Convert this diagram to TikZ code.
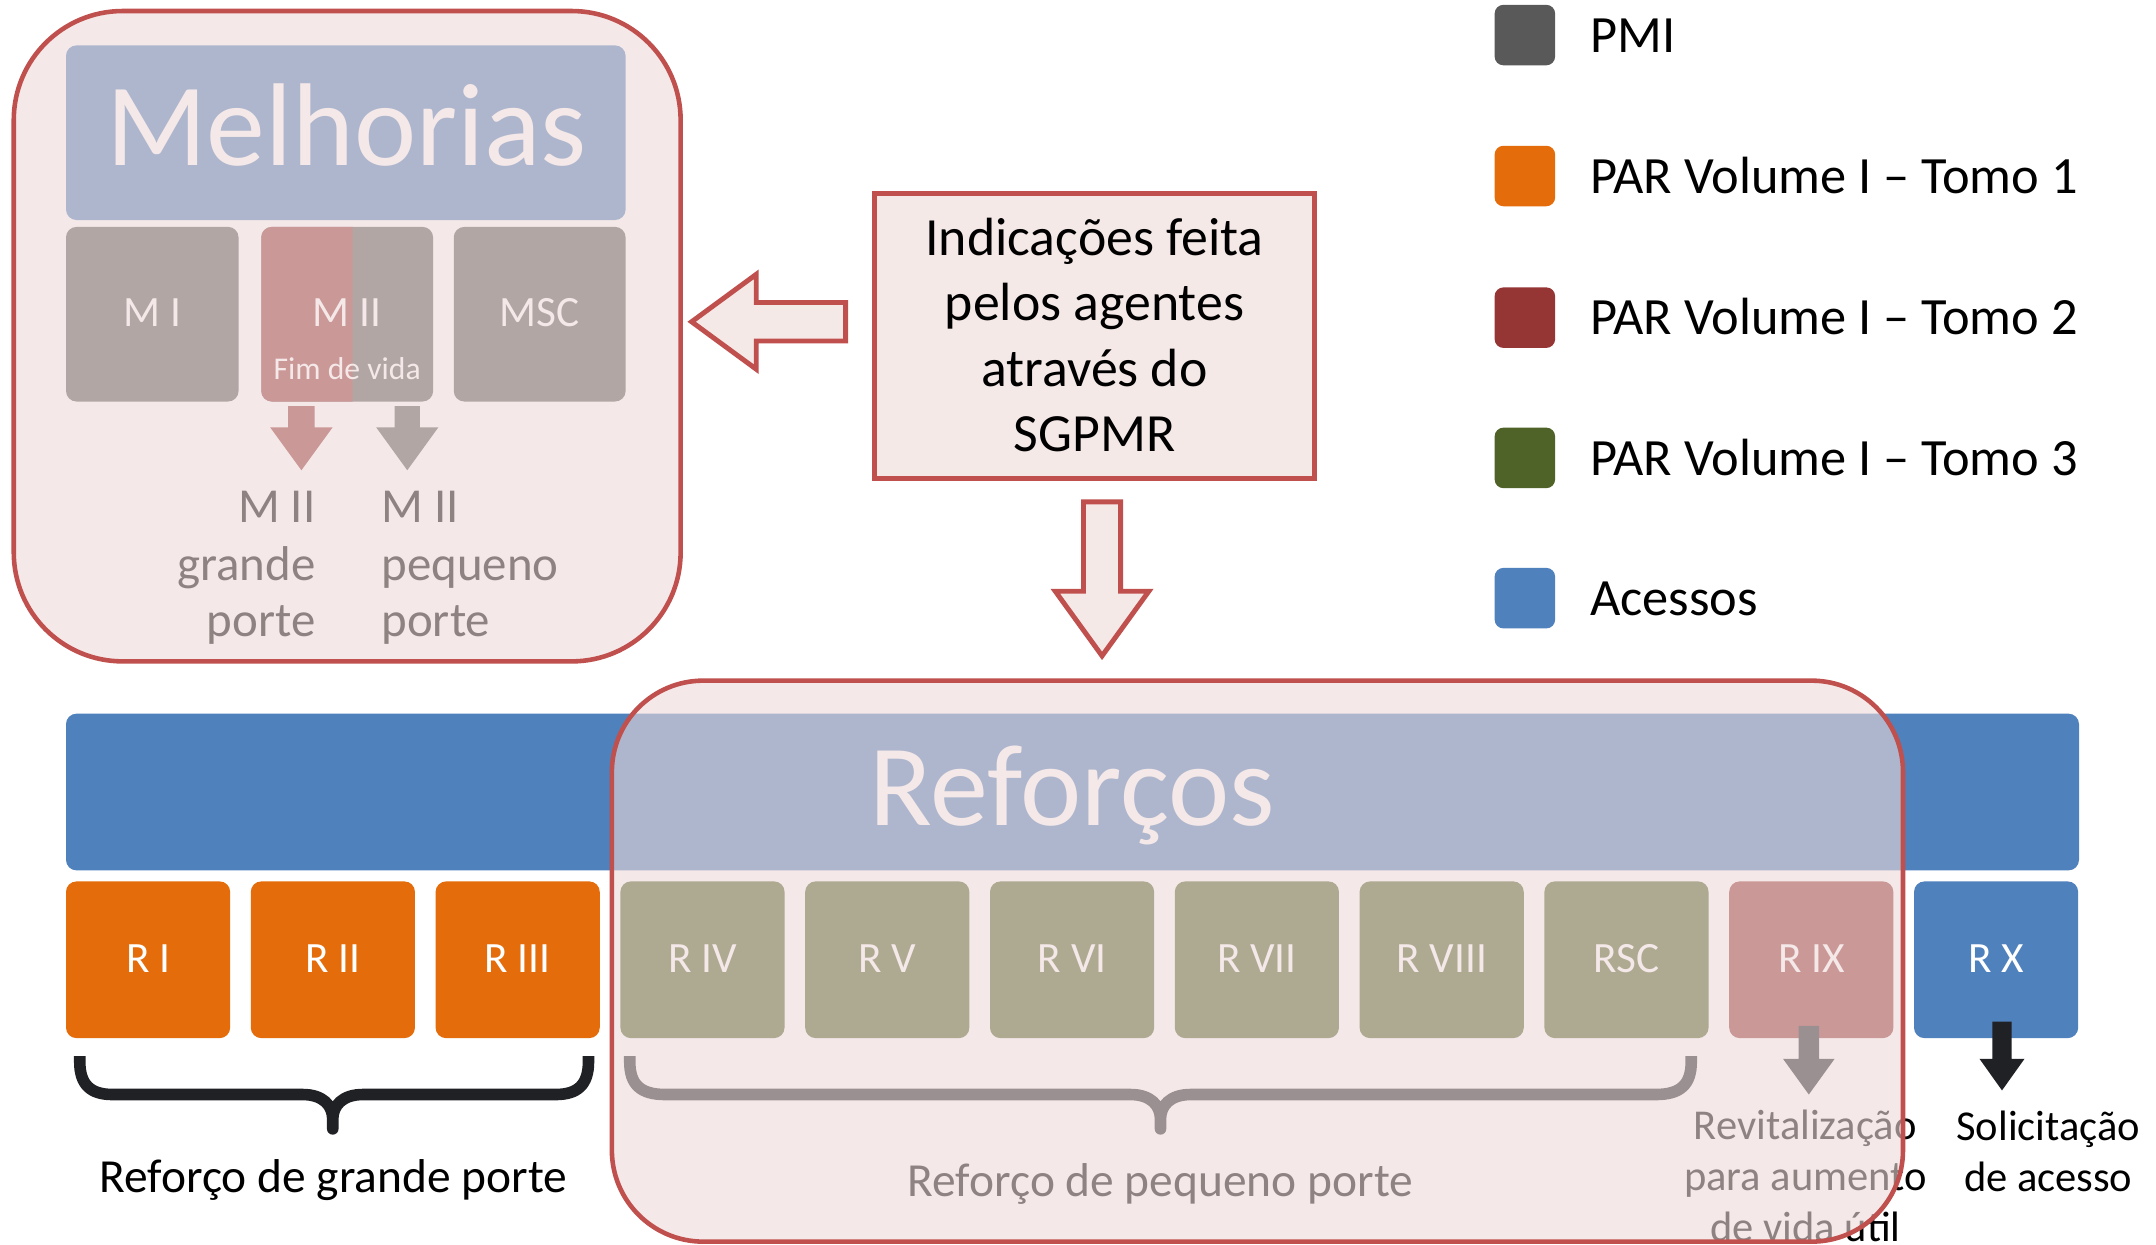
\documentclass[tikz,border=0pt]{standalone}
\usepackage{fontspec}
\setmainfont{Carlito}
\definecolor{pmi}{RGB}{89,89,89}
\definecolor{orng}{RGB}{228,108,10}
\definecolor{dred}{RGB}{150,54,52}
\definecolor{grn}{RGB}{79,98,40}
\definecolor{blu}{RGB}{79,129,189}
\definecolor{redline}{RGB}{192,80,77}
\definecolor{ovl}{RGB}{238,218,217}
\definecolor{pinkfill}{RGB}{245,233,232}
\definecolor{darkc}{RGB}{32,33,37}
\newcommand{\solidarrow}[7]{%
  \fill[#7] ({#1-#5},#2) -- ({#1+#5},#2) -- ({#1+#5},#3) -- ({#1+#6},#3) -- (#1,#4)
    -- ({#1-#6},#3) -- ({#1-#5},#3) -- cycle;}
\begin{document}
\begin{tikzpicture}[x=0.01375cm,y=-0.01375cm,
  rc/.style={rounded corners=3pt},
  lbl/.style={text=white,font=\fontsize{12.3}{14}\selectfont,anchor=base,inner sep=0pt},
  fimlbl/.style={text=white,font=\fontsize{9}{11}\selectfont,anchor=base,inner sep=0pt},
  bigtitle/.style={text=white,font=\fontsize{33.5}{40}\selectfont,anchor=base,inner sep=0pt},
  note/.style={text=black,font=\fontsize{13.9}{16}\selectfont,inner sep=0pt},
  porte/.style={text=black,font=\fontsize{13.5}{16}\selectfont,anchor=base,inner sep=0pt},
  small/.style={text=black,font=\fontsize{12.1}{14}\selectfont,anchor=base,inner sep=0pt},
  sgtxt/.style={text=black,font=\fontsize{15.3}{18}\selectfont,anchor=base,inner sep=0pt},
  legtxt/.style={text=black,font=\fontsize{14.9}{18}\selectfont,anchor=base west,inner sep=0pt},
  bracestyle/.style={darkc,line width=3.3pt,line join=round},
  hollow/.style={draw=redline,line width=1.4pt,fill=pinkfill},
  overlayfill/.style={fill=ovl,fill opacity=0.6},
  overlayline/.style={draw=redline,line width=1.3pt}
]
\clip (0,0) rectangle (1568,905);
\fill[white] (0,0) rectangle (1568,905);

% ---------- Reforcos bar and boxes ----------
\fill[blu,rc] (48,519) rectangle (1512,633);
\node[bigtitle,font=\fontsize{33}{40}\selectfont] (reforcos) at (780,600) {Reforços};

\foreach \i/\c/\t in {0/orng/R I,1/orng/R II,2/orng/R III,3/grn/R IV,4/grn/R V,5/grn/R VI,6/grn/R VII,7/grn/R VIII,8/grn/RSC,9/dred/R IX,10/blu/R X}{
  \pgfmathsetmacro\xa{48+\i*134.4}
  \fill[\c,rc] (\xa,641) rectangle ++(119.4,114);
  \node[lbl] (r\i) at (\xa+59.7,707.5) {\t};
}

% braces
\draw[bracestyle] (58,768) -- (58,772) .. controls (58,789) and (66,796) .. (82,796) -- (220,796)
  .. controls (235,796) and (242,804) .. (242,814) -- (242,821) -- (242,814)
  .. controls (242,804) and (249,796) .. (264,796) -- (404,796)
  .. controls (420,796) and (428,789) .. (428,772) -- (428,768);
\draw[bracestyle] (458,768) -- (458,772) .. controls (458,789) and (466,796) .. (484,796) -- (822,796)
  .. controls (837,796) and (844,804) .. (844,814) -- (844,821) -- (844,814)
  .. controls (844,804) and (851,796) .. (866,796) -- (1204,796)
  .. controls (1222,796) and (1230,789) .. (1230,772) -- (1230,768);

\node[porte] (grandeporte) at (242.5,867) {Reforço de grande porte};
\node[porte] (pequenoporte) at (844,870) {Reforço de pequeno porte};

% arrows under R IX and R X
\solidarrow{1315.5}{746}{770}{796}{7.5}{18.8}{darkc}
\solidarrow{1456}{743}{770}{793}{7}{16.4}{darkc}

\node[small] (rev1) at (1313,829) {Revitalização};
\node[small] (rev2) at (1313,866) {para aumento};
\node[small] (rev3) at (1313,903) {de vida útil};
\node[small] (sol1) at (1489.6,829.6) {Solicitação};
\node[small] (sol2) at (1489.6,866.7) {de acesso};

% ---------- Melhorias ----------
\fill[blu,rc] (48,33) rectangle (455,160);
\node[bigtitle] (melhorias) at (252,120.5) {Melhorias};
\fill[pmi,rc] (48,165) rectangle (173.5,292);
\node[lbl] (m1) at (111,237.5) {M I};
\fill[pmi,rc] (190,165) rectangle (315,292);
\begin{scope}
  \clip (190,165) rectangle (256.5,292);
  \fill[dred,rc] (190,165) rectangle (315,292);
\end{scope}
\node[lbl] (m2) at (252.5,237.5) {M II};
\node[fimlbl] (fim) at (252.5,276) {Fim de vida};
\fill[pmi,rc] (330,165) rectangle (455,292);
\node[lbl] (msc) at (392.3,237.5) {MSC};

\solidarrow{219.2}{295.3}{310.8}{342}{9.7}{22.7}{dred}
\solidarrow{296.2}{295.3}{310.8}{342}{9.2}{22.6}{pmi}

\node[note,anchor=base east] (g1) at (230,380) {M II};
\node[note,anchor=base east] (g2) at (230,422) {grande};
\node[note,anchor=base east] (g3) at (230,463) {porte};
\node[note,anchor=base west] (p1) at (277,380) {M II};
\node[note,anchor=base west] (p2) at (277,422) {pequeno};
\node[note,anchor=base west] (p3) at (277,463) {porte};

% ---------- overlays ----------
\path[overlayfill,rounded corners=31pt] (10,8) rectangle (495,481);
\draw[overlayline,rounded corners=31pt] (10,8) rectangle (495,481);
\path[overlayfill,rounded corners=26pt] (445,495) rectangle (1384,903);
\draw[overlayline,rounded corners=26pt] (445,495) rectangle (1384,903);

% ---------- SGPMR box and hollow arrows ----------
\draw[hollow] (636,140.5) rectangle (956,348);
\node[sgtxt] (s1) at (796,186) {Indicações feita};
\node[sgtxt] (s2) at (796,233.4) {pelos agentes};
\node[sgtxt] (s3) at (796,281.2) {através do};
\node[sgtxt] (s4) at (796,328.6) {SGPMR};

\draw[hollow] (615,220) -- (550,220) -- (550,199.5) -- (503,234) -- (550,268.5) -- (550,248) -- (615,248) -- cycle;
\draw[hollow] (788,365) -- (815,365) -- (815,430) -- (835.5,430) -- (801.5,477) -- (767.5,430) -- (788,430) -- cycle;

% ---------- legend ----------
\foreach \c/\y/\t [count=\k] in {pmi/25.5/PMI,orng/128/PAR Volume I – Tomo 1,dred/231/PAR Volume I – Tomo 2,grn/333/PAR Volume I – Tomo 3,blu/435/Acessos}{
  \fill[\c,rounded corners=2.5pt] (1087,\y-22) rectangle (1131,\y+22);
  \node[legtxt] (leg\k) at (1156,\y+12.5) {\t};
}
\end{tikzpicture}
\end{document}
